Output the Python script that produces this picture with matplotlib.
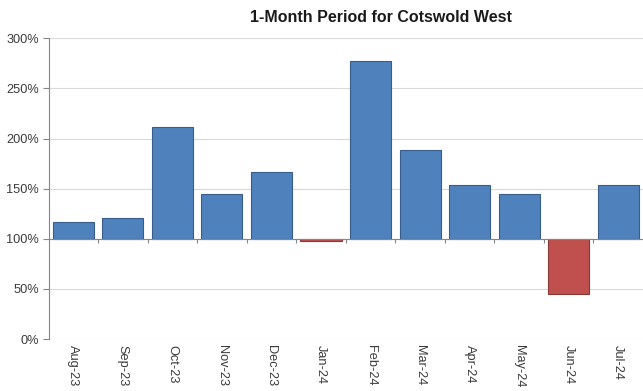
import matplotlib
matplotlib.use("Agg")
import matplotlib.pyplot as plt
import matplotlib.transforms as mtransforms
from matplotlib.ticker import FixedLocator, FuncFormatter

plt.rcParams['font.family'] = ['Liberation Sans', 'DejaVu Sans']

months = ["Aug-23", "Sep-23", "Oct-23", "Nov-23", "Dec-23", "Jan-24",
          "Feb-24", "Mar-24", "Apr-24", "May-24", "Jun-24", "Jul-24"]
values = [117, 121, 212, 145, 167, 98, 277, 189, 154, 145, 45, 154]
baseline = 100
yticks = [0, 50, 100, 150, 200, 250, 300]

up_color, up_edge = "#4F81BD", "#385D8A"
down_color, down_edge = "#C0504D", "#8C3836"

fig = plt.figure(figsize=(6.43, 3.91), dpi=100)
ax = fig.add_axes([48.5 / 643, 1 - 339 / 391, 1 - 48.5 / 643, (339 - 38.3) / 391])

x = list(range(len(months)))
heights = [v - baseline for v in values]
fcols = [up_color if v >= baseline else down_color for v in values]
ecols = [up_edge if v >= baseline else down_edge for v in values]
ax.bar(x, heights, bottom=baseline, width=0.83, color=fcols,
       edgecolor=ecols, linewidth=0.8, zorder=3)

ax.set_xlim(-0.5, len(months) - 0.5)
ax.set_ylim(0, 300)
ax.set_yticks(yticks)
ax.yaxis.set_major_formatter(FuncFormatter(lambda v, p: f"{v:.0f}%"))
ax.grid(axis='y', color='#D9D9D9', linewidth=0.8, zorder=0)
ax.set_axisbelow(True)

for s in ("top", "right"):
    ax.spines[s].set_visible(False)
ax.spines["left"].set_color("#868686")
ax.spines["left"].set_linewidth(0.8)
ax.spines["bottom"].set_position(("data", baseline))
ax.spines["bottom"].set_color("#868686")
ax.spines["bottom"].set_linewidth(0.8)
ax.spines["bottom"].set_zorder(4)

ax.tick_params(axis='y', direction='out', length=4, width=0.8,
               color='#868686', labelsize=9.2, labelcolor='#3A3A3A', pad=3)

# tick marks between categories on the baseline axis
ax.set_xticks(x)
ax.tick_params(axis='x', which='major', length=0, labelbottom=False)
ax.xaxis.set_minor_locator(FixedLocator([i + 0.5 for i in range(len(months) - 1)]))
ax.tick_params(axis='x', which='minor', direction='out', length=3,
               width=0.8, color='#868686')

# category labels under the plot area
trans = mtransforms.blended_transform_factory(ax.transData, ax.transAxes)
for i, m in enumerate(months):
    ax.text(i, -0.02, m, transform=trans, rotation=270, ha='center', va='top',
            fontsize=9.2, color='#3A3A3A')

fig.text(381 / 643, 1 - 17 / 391, "1-Month Period for Cotswold West",
         ha='center', va='center', fontsize=11.5, fontweight='bold', color='#1A1A1A')

fig.savefig("out.png", dpi=100)
